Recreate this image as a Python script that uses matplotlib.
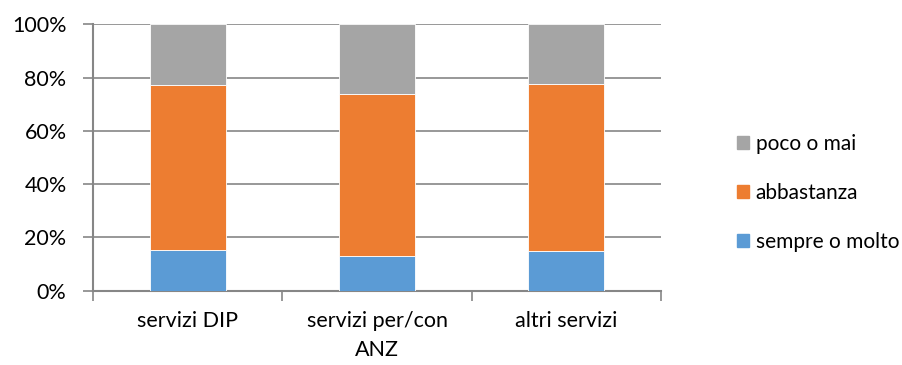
import numpy as np
import matplotlib
matplotlib.use('Agg')
from matplotlib import pyplot as plt
from matplotlib.patches import Patch
from matplotlib.ticker import PercentFormatter

plt.rcParams['font.family'] = ['Lato', 'DejaVu Sans']

categories = ['servizi DIP', 'servizi per/con\nANZ', 'altri servizi']
sempre = [15.1, 12.9, 14.7]
abbastanza = [62.0, 60.8, 62.8]
poco = [22.9, 26.3, 22.5]

series = [('sempre o molto', sempre, '#5B9BD5'),
          ('abbastanza', abbastanza, '#ED7D31'),
          ('poco o mai', poco, '#A5A5A5')]

fs = 15.5

fig = plt.figure(figsize=(9.03, 3.65), dpi=100)
ax = fig.add_axes([0.103, 0.204, 0.629, 0.729])

x = np.arange(len(categories))
bottom = np.zeros(len(categories))
for name, vals, col in series:
    ax.bar(x, vals, 0.4, bottom=bottom, color=col, edgecolor='white',
           linewidth=0.6, zorder=3)
    bottom += np.array(vals)

ax.set_xlim(-0.5, 2.5)
ax.set_ylim(0, 100)
ax.set_yticks(np.arange(0, 101, 20))
ax.yaxis.set_major_formatter(PercentFormatter(decimals=0))
ax.grid(axis='y', color='#868686', linewidth=1.2, zorder=0)

# category ticks sit on the boundaries, labels in between
ax.set_xticks([-0.5, 0.5, 1.5, 2.5])
ax.set_xticklabels([])
ax.set_xticks(x, minor=True)
ax.set_xticklabels(categories, minor=True, fontsize=fs, linespacing=1.55)
ax.tick_params(axis='x', which='minor', length=0, pad=15)
ax.tick_params(axis='x', which='major', length=7, color='#868686', width=1.2)
ax.tick_params(axis='y', length=7, color='#868686', width=1.2, labelsize=fs, pad=12)

for s in ['top', 'right']:
    ax.spines[s].set_visible(False)
for s in ['left', 'bottom']:
    ax.spines[s].set_color('#868686')
    ax.spines[s].set_linewidth(1.5)

handles = [Patch(color=col, label=name) for name, vals, col in series][::-1]
fig.legend(handles=handles, loc='center left', bbox_to_anchor=(0.816, 0.472),
           frameon=False, fontsize=15, handlelength=0.6, handleheight=0.6,
           handletextpad=0.3, labelspacing=1.4, borderpad=0, borderaxespad=0)

fig.savefig('out.png', dpi=100)
